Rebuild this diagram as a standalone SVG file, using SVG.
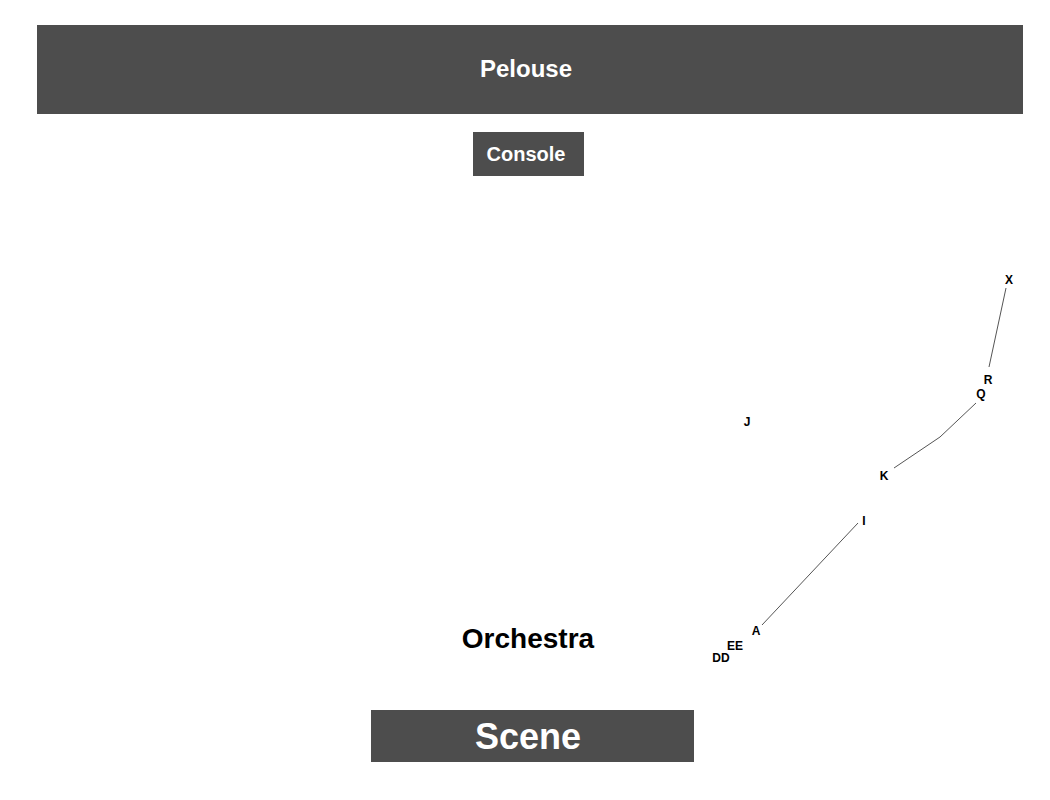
<svg xmlns="http://www.w3.org/2000/svg" width="1050" height="800" viewBox="0 0 1050 800">
<style>
.blk{fill:#4d4d4d}
.wt{fill:#fff;font-family:"Liberation Sans",Arial,sans-serif;font-weight:bold;text-anchor:middle}
.lb{fill:#000;font-family:"Liberation Sans",Arial,sans-serif;font-weight:bold;font-size:12px;text-anchor:middle}
.ln{fill:none;stroke:#555;stroke-width:1}
</style>
<rect width="1050" height="800" fill="#fff"/>
<g id="pelouse"><rect class="blk" x="37" y="25" width="986" height="89"/><text class="wt" x="526" y="77" font-size="24">Pelouse</text></g>
<g id="console"><rect class="blk" x="473" y="132" width="111" height="44"/><text class="wt" x="526" y="161" font-size="20">Console</text></g>
<g id="scene"><rect class="blk" x="371" y="710" width="323" height="52"/><text class="wt" x="528" y="749" font-size="36">Scene</text></g>
<text x="528" y="648" font-family="Liberation Sans,Arial,sans-serif" font-weight="bold" font-size="28" text-anchor="middle">Orchestra</text>
<g id="rows">
<path class="ln" d="M1006,288 L989,367"/>
<path class="ln" d="M976,403 L940,437 L894,468"/>
<path class="ln" d="M858,523 L762,625"/>
<text class="lb" x="1009" y="284">X</text>
<text class="lb" x="988" y="384">R</text>
<text class="lb" x="981" y="398">Q</text>
<text class="lb" x="747" y="426">J</text>
<text class="lb" x="884" y="480">K</text>
<text class="lb" x="864" y="525">I</text>
<text class="lb" x="756" y="635">A</text>
<text class="lb" x="735" y="650">EE</text>
<text class="lb" x="721" y="662">DD</text>
</g>
</svg>
